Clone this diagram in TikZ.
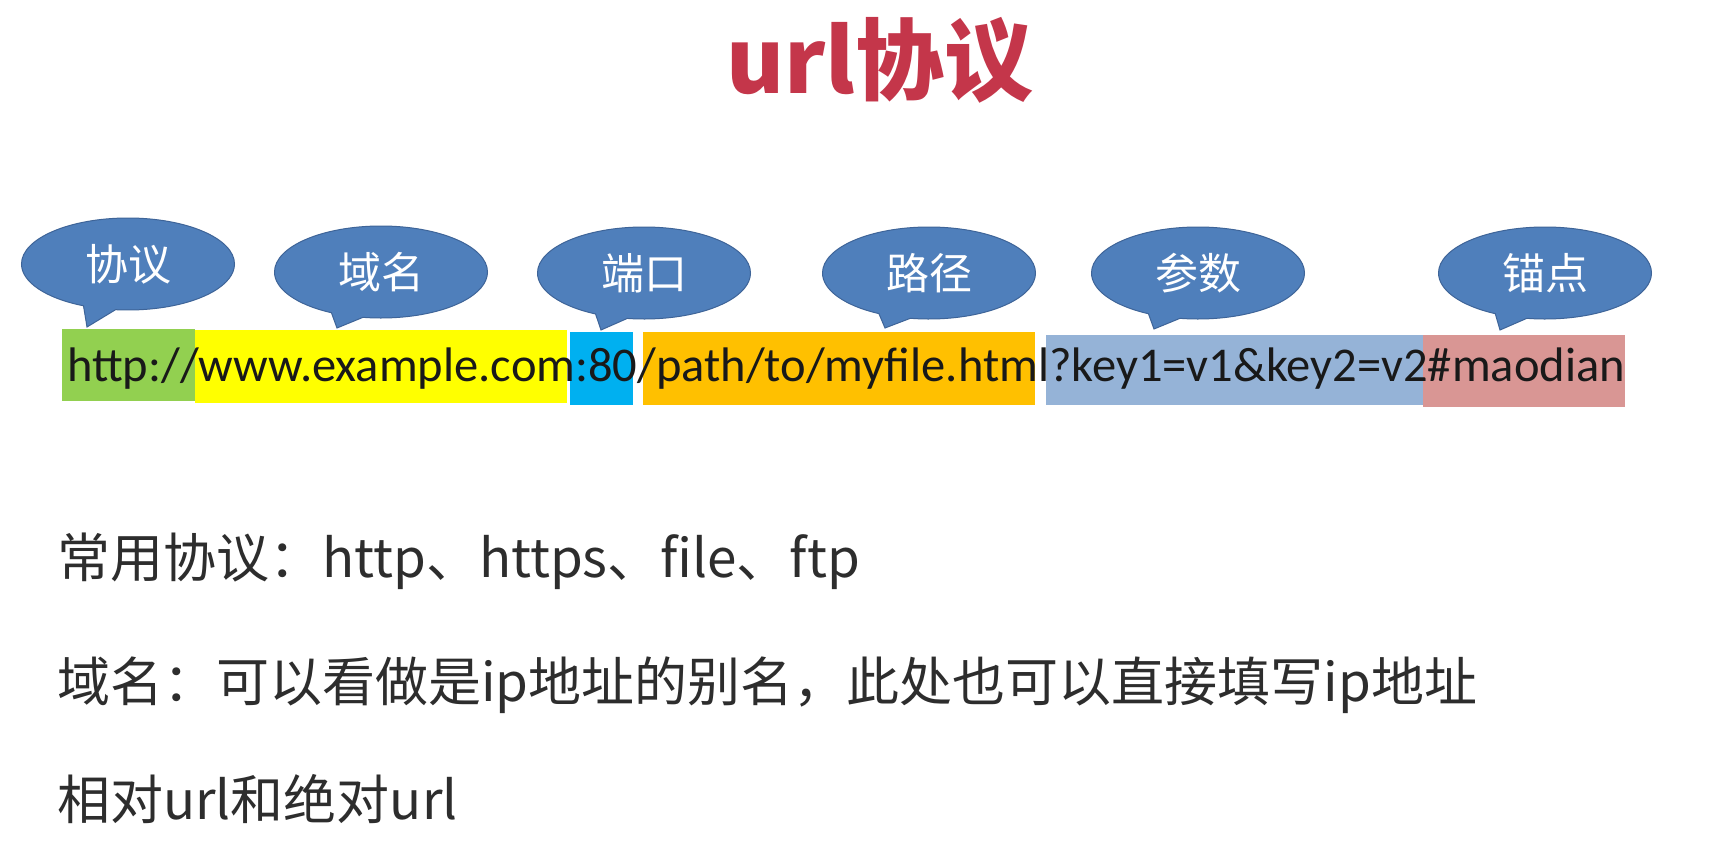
\documentclass[tikz,border=0pt]{standalone}
\usepackage{fontspec}
\setmainfont{Carlito}
\newfontfamily\cjk{Noto Sans CJK SC}
\usetikzlibrary{shapes.callouts}

\definecolor{titlered}{RGB}{196,54,74}
\definecolor{bubbleblue}{RGB}{79,127,187}
\definecolor{bubbleedge}{RGB}{62,100,152}
\definecolor{protocolgreen}{RGB}{146,208,80}
\definecolor{domainyellow}{RGB}{255,255,0}
\definecolor{portcyan}{RGB}{0,176,240}
\definecolor{pathorange}{RGB}{255,192,0}
\definecolor{queryblue}{RGB}{149,179,215}
\definecolor{anchorpink}{RGB}{217,150,148}
\definecolor{notegray}{RGB}{45,45,45}

\begin{document}
\begin{tikzpicture} [x = 1pt, y = -1pt,
  bubble/.style = {ellipse callout, fill = bubbleblue, draw = bubbleedge, line width = 1pt,
    minimum width = 213pt, minimum height = 92pt, callout pointer arc = 18,
    text = white, font = \cjk\fontsize{43}{50}\selectfont},
  notetext/.style = {anchor = base west, inner sep = 0, text = notegray,
    font = \cjk\fontsize{53}{60}\selectfont}]
\fill[white] (0, 0) rectangle (1709, 857);
\useasboundingbox (0, 0) rectangle (1709, 857);

% title
\node[text = titlered, font = \cjk\bfseries\fontsize{89}{100}\selectfont, anchor = base] (title) at (880, 93){url协议};

% coloured parts of the address
\fill[protocolgreen] (62, 329) rectangle (195, 401);
\fill[domainyellow] (195, 330) rectangle (567, 403);
\fill[portcyan] (570, 332) rectangle (633, 405);
\fill[pathorange] (643, 332) rectangle (1035, 405);
\fill[queryblue] (1046, 335) rectangle (1423, 405);
\fill[anchorpink] (1423, 335) rectangle (1625, 407);
\node[anchor = base west, inner sep = 0, text = black!90, font = \fontsize{48.5}{50}\selectfont] (url) at (67, 381){http://www.example.com:80/path/to/myfile.html?key1=v1\&key2=v2\#maodian};

% callouts
\coordinate (t1) at (87, 327);
\coordinate (t2) at (337, 328);
\coordinate (t3) at (601, 330);
\coordinate (t4) at (885, 328);
\coordinate (t5) at (1154, 329);
\coordinate (t6) at (1500, 330);
\node[bubble, callout absolute pointer = (t1)] (b1) at (128, 264){协议};
\node[bubble, callout absolute pointer = (t2)] (b2) at (381, 272){域名};
\node[bubble, callout absolute pointer = (t3)] (b3) at (644, 273){端口};
\node[bubble, callout absolute pointer = (t4)] (b4) at (929, 273){路径};
\node[bubble, callout absolute pointer = (t5)] (b5) at (1198, 273){参数};
\node[bubble, callout absolute pointer = (t6)] (b6) at (1545, 273){锚点};

% notes
\node[notetext] (n1) at (57, 577){常用协议：http、https、file、ftp};
\node[notetext] (n2) at (57, 701){域名：可以看做是ip地址的别名，此处也可以直接填写ip地址};
\node[notetext] (n3) at (57, 819){相对url和绝对url};
\end{tikzpicture}
\end{document}
